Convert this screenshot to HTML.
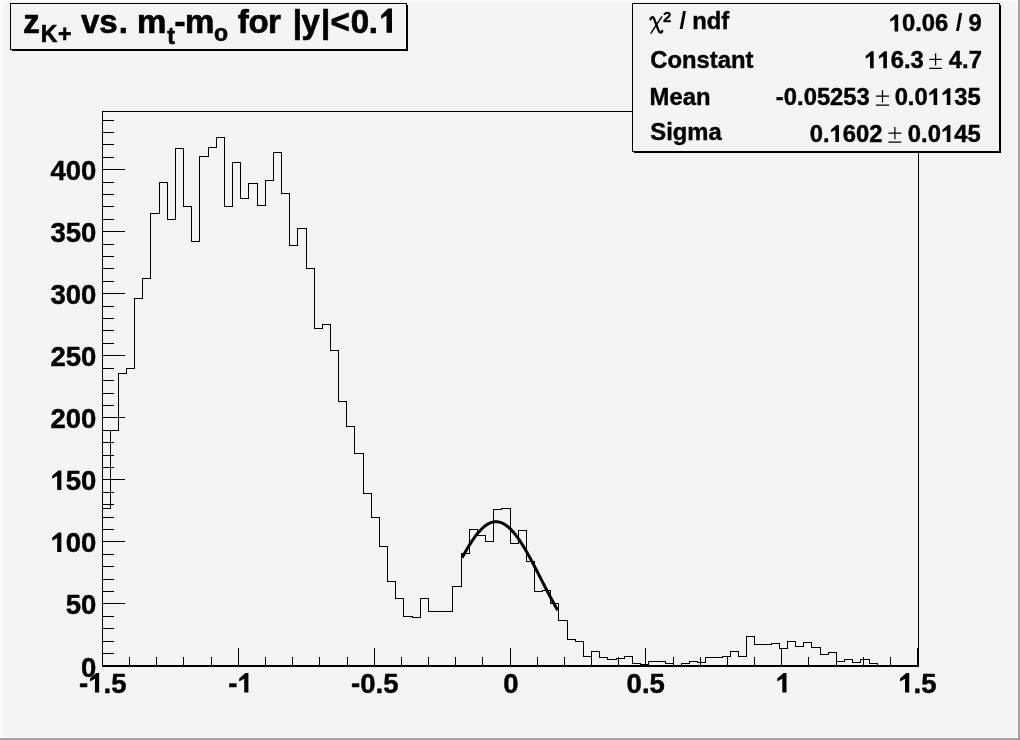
<!DOCTYPE html>
<html><head><meta charset="utf-8"><title>z_K+ vs mt-m0</title>
<style>
html,body{margin:0;padding:0;background:#f4f4f4;}
body{width:1020px;height:740px;overflow:hidden;position:relative;font-family:"Liberation Sans",sans-serif;}
svg{position:absolute;left:0;top:0;display:block;will-change:transform}
text{font-family:"Liberation Sans",sans-serif;font-weight:bold;fill:#000;stroke:#000;stroke-linejoin:round}
</style></head><body>
<svg width="1020" height="740" viewBox="0 0 1020 740">
<rect x="0" y="0" width="1020" height="740" fill="#f4f4f4"/>
<!-- canvas bevel -->
<rect x="0" y="0" width="1020" height="2" fill="#fbfbfb"/>
<rect x="0" y="0" width="3" height="740" fill="#fbfbfb"/>
<rect x="0" y="738" width="1020" height="2" fill="#a2a2a2"/>
<rect x="1018" y="0" width="2" height="740" fill="#a2a2a2"/>
<rect x="1017" y="2" width="1" height="736" fill="#fbfbfb"/>
<rect x="3" y="737" width="1015" height="1" fill="#fbfbfb"/>
<!-- frame -->
<g shape-rendering="crispEdges" fill="none" stroke="#000" stroke-width="1">
<rect x="102.5" y="111.5" width="816" height="555"/>
<path d="M102.5,666 v-18 M129.5,666 v-9 M156.5,666 v-9 M183.5,666 v-9 M211.5,666 v-9 M238.5,666 v-18 M265.5,666 v-9 M292.5,666 v-9 M319.5,666 v-9 M347.5,666 v-9 M374.5,666 v-18 M401.5,666 v-9 M428.5,666 v-9 M455.5,666 v-9 M482.5,666 v-9 M510.5,666 v-18 M537.5,666 v-9 M564.5,666 v-9 M591.5,666 v-9 M618.5,666 v-9 M645.5,666 v-18 M673.5,666 v-9 M700.5,666 v-9 M727.5,666 v-9 M754.5,666 v-9 M781.5,666 v-18 M808.5,666 v-9 M836.5,666 v-9 M863.5,666 v-9 M890.5,666 v-9 M917.5,666 v-18 M102,666.5 h23 M102,653.5 h12 M102,641.5 h12 M102,628.5 h12 M102,616.5 h12 M102,603.5 h23 M102,591.5 h12 M102,579.5 h12 M102,566.5 h12 M102,554.5 h12 M102,541.5 h23 M102,529.5 h12 M102,517.5 h12 M102,504.5 h12 M102,492.5 h12 M102,479.5 h23 M102,467.5 h12 M102,455.5 h12 M102,442.5 h12 M102,430.5 h12 M102,417.5 h23 M102,405.5 h12 M102,393.5 h12 M102,380.5 h12 M102,368.5 h12 M102,355.5 h23 M102,343.5 h12 M102,330.5 h12 M102,318.5 h12 M102,306.5 h12 M102,293.5 h23 M102,281.5 h12 M102,268.5 h12 M102,256.5 h12 M102,244.5 h12 M102,231.5 h23 M102,219.5 h12 M102,206.5 h12 M102,194.5 h12 M102,182.5 h12 M102,169.5 h23 M102,157.5 h12 M102,144.5 h12 M102,132.5 h12 M102,120.5 h12"/>
<path d="M102.5,666.5 L102.5,508.5 L110.5,508.5 L110.5,430.5 L118.5,430.5 L118.5,373.5 L126.5,373.5 L126.5,368.5 L134.5,368.5 L134.5,298.5 L142.5,298.5 L142.5,278.5 L150.5,278.5 L150.5,213.5 L159.5,213.5 L159.5,182.5 L167.5,182.5 L167.5,219.5 L175.5,219.5 L175.5,148.5 L183.5,148.5 L183.5,206.5 L191.5,206.5 L191.5,241.5 L199.5,241.5 L199.5,156.5 L208.5,156.5 L208.5,147.5 L216.5,147.5 L216.5,137.5 L224.5,137.5 L224.5,206.5 L232.5,206.5 L232.5,162.5 L240.5,162.5 L240.5,198.5 L248.5,198.5 L248.5,183.5 L257.5,183.5 L257.5,205.5 L265.5,205.5 L265.5,180.5 L273.5,180.5 L273.5,152.5 L281.5,152.5 L281.5,193.5 L289.5,193.5 L289.5,245.5 L297.5,245.5 L297.5,228.5 L306.5,228.5 L306.5,268.5 L314.5,268.5 L314.5,328.5 L322.5,328.5 L322.5,324.5 L330.5,324.5 L330.5,350.5 L338.5,350.5 L338.5,401.5 L346.5,401.5 L346.5,426.5 L354.5,426.5 L354.5,453.5 L363.5,453.5 L363.5,493.5 L371.5,493.5 L371.5,517.5 L379.5,517.5 L379.5,546.5 L387.5,546.5 L387.5,581.5 L395.5,581.5 L395.5,598.5 L403.5,598.5 L403.5,616.5 L412.5,616.5 L412.5,617.5 L420.5,617.5 L420.5,598.5 L428.5,598.5 L428.5,611.5 L436.5,611.5 L436.5,611.5 L444.5,611.5 L444.5,611.5 L452.5,611.5 L452.5,586.5 L461.5,586.5 L461.5,553.5 L469.5,553.5 L469.5,529.5 L477.5,529.5 L477.5,535.5 L485.5,535.5 L485.5,541.5 L493.5,541.5 L493.5,509.5 L501.5,509.5 L501.5,508.5 L510.5,508.5 L510.5,543.5 L518.5,543.5 L518.5,530.5 L526.5,530.5 L526.5,561.5 L534.5,561.5 L534.5,591.5 L542.5,591.5 L542.5,590.5 L550.5,590.5 L550.5,603.5 L558.5,603.5 L558.5,620.5 L567.5,620.5 L567.5,639.5 L575.5,639.5 L575.5,641.5 L583.5,641.5 L583.5,656.5 L591.5,656.5 L591.5,651.5 L599.5,651.5 L599.5,657.5 L607.5,657.5 L607.5,659.5 L616.5,659.5 L616.5,658.5 L624.5,658.5 L624.5,656.5 L632.5,656.5 L632.5,663.5 L640.5,663.5 L640.5,664.5 L648.5,664.5 L648.5,661.5 L656.5,661.5 L656.5,661.5 L665.5,661.5 L665.5,663.5 L673.5,663.5 L673.5,666.5 L681.5,666.5 L681.5,663.5 L689.5,663.5 L689.5,661.5 L697.5,661.5 L697.5,662.5 L705.5,662.5 L705.5,657.5 L714.5,657.5 L714.5,657.5 L722.5,657.5 L722.5,656.5 L730.5,656.5 L730.5,651.5 L738.5,651.5 L738.5,656.5 L746.5,656.5 L746.5,636.5 L754.5,636.5 L754.5,644.5 L762.5,644.5 L762.5,644.5 L771.5,644.5 L771.5,643.5 L779.5,643.5 L779.5,648.5 L787.5,648.5 L787.5,641.5 L795.5,641.5 L795.5,646.5 L803.5,646.5 L803.5,642.5 L811.5,642.5 L811.5,647.5 L820.5,647.5 L820.5,654.5 L828.5,654.5 L828.5,652.5 L836.5,652.5 L836.5,661.5 L844.5,661.5 L844.5,659.5 L852.5,659.5 L852.5,662.5 L860.5,662.5 L860.5,659.5 L869.5,659.5 L869.5,663.5 L877.5,663.5 L877.5,666.5 L885.5,666.5 L885.5,666.5 L893.5,666.5 L893.5,666.5 L901.5,666.5 L901.5,666.5 L909.5,666.5 L909.5,666.5 L918.5,666.5 L918.5,666.5"/>
<path d="M102,665.5 H919"/>
</g>
<path d="M461.99,557.88 L462.95,556.13 L463.91,554.41 L464.86,552.71 L465.82,551.04 L466.78,549.39 L467.74,547.78 L468.69,546.20 L469.65,544.65 L470.61,543.14 L471.57,541.67 L472.52,540.24 L473.48,538.85 L474.44,537.50 L475.40,536.20 L476.35,534.95 L477.31,533.74 L478.27,532.58 L479.23,531.48 L480.18,530.43 L481.14,529.43 L482.10,528.49 L483.06,527.60 L484.01,526.77 L484.97,526.01 L485.93,525.30 L486.89,524.65 L487.84,524.07 L488.80,523.55 L489.76,523.09 L490.72,522.69 L491.67,522.37 L492.63,522.10 L493.59,521.90 L494.54,521.77 L495.50,521.70 L496.46,521.70 L497.42,521.77 L498.37,521.90 L499.33,522.10 L500.29,522.36 L501.25,522.69 L502.20,523.08 L503.16,523.54 L504.12,524.06 L505.08,524.64 L506.03,525.28 L506.99,525.99 L507.95,526.76 L508.91,527.58 L509.86,528.47 L510.82,529.41 L511.78,530.40 L512.74,531.45 L513.69,532.56 L514.65,533.71 L515.61,534.92 L516.57,536.17 L517.52,537.47 L518.48,538.82 L519.44,540.21 L520.40,541.64 L521.35,543.11 L522.31,544.62 L523.27,546.16 L524.23,547.74 L525.18,549.36 L526.14,551.00 L527.10,552.67 L528.06,554.37 L529.01,556.10 L529.97,557.84 L530.93,559.61 L531.89,561.40 L532.84,563.20 L533.80,565.02 L534.76,566.85 L535.71,568.69 L536.67,570.55 L537.63,572.41 L538.59,574.27 L539.54,576.14 L540.50,578.02 L541.46,579.89 L542.42,581.76 L543.37,583.63 L544.33,585.49 L545.29,587.35 L546.25,589.20 L547.20,591.04 L548.16,592.87 L549.12,594.69 L550.08,596.50 L551.03,598.29 L551.99,600.06 L552.95,601.82 L553.91,603.56 L554.86,605.28 L555.82,606.98 L556.78,608.65 L557.74,610.31" fill="none" stroke="#000" stroke-width="3" stroke-linejoin="round"/>
<g id="ylabels">
<text x="81.03" y="676.90" font-size="27.5px" stroke-width="0.45">0</text>
<text x="65.74" y="613.90" font-size="27.5px" stroke-width="0.45">5</text>
<text x="81.03" y="613.90" font-size="27.5px" stroke-width="0.45">0</text>
<path d="M52.15,537.84 L58.44,532.38 L61.36,532.38 L61.36,551.90 L57.18,551.90 L57.18,538.04 L52.55,540.58 L52.15,540.58 Z" fill="#000"/>
<text x="65.74" y="551.90" font-size="27.5px" stroke-width="0.45">0</text>
<text x="81.03" y="551.90" font-size="27.5px" stroke-width="0.45">0</text>
<path d="M52.15,475.84 L58.44,470.38 L61.36,470.38 L61.36,489.90 L57.18,489.90 L57.18,476.04 L52.55,478.58 L52.15,478.58 Z" fill="#000"/>
<text x="65.74" y="489.90" font-size="27.5px" stroke-width="0.45">5</text>
<text x="81.03" y="489.90" font-size="27.5px" stroke-width="0.45">0</text>
<text x="50.45" y="427.90" font-size="27.5px" stroke-width="0.45">2</text>
<text x="65.74" y="427.90" font-size="27.5px" stroke-width="0.45">0</text>
<text x="81.03" y="427.90" font-size="27.5px" stroke-width="0.45">0</text>
<text x="50.45" y="365.90" font-size="27.5px" stroke-width="0.45">2</text>
<text x="65.74" y="365.90" font-size="27.5px" stroke-width="0.45">5</text>
<text x="81.03" y="365.90" font-size="27.5px" stroke-width="0.45">0</text>
<text x="50.45" y="303.90" font-size="27.5px" stroke-width="0.45">3</text>
<text x="65.74" y="303.90" font-size="27.5px" stroke-width="0.45">0</text>
<text x="81.03" y="303.90" font-size="27.5px" stroke-width="0.45">0</text>
<text x="50.45" y="241.90" font-size="27.5px" stroke-width="0.45">3</text>
<text x="65.74" y="241.90" font-size="27.5px" stroke-width="0.45">5</text>
<text x="81.03" y="241.90" font-size="27.5px" stroke-width="0.45">0</text>
<text x="50.45" y="179.90" font-size="27.5px" stroke-width="0.45">4</text>
<text x="65.74" y="179.90" font-size="27.5px" stroke-width="0.45">0</text>
<text x="81.03" y="179.90" font-size="27.5px" stroke-width="0.45">0</text>
</g>
<g id="xlabels">
<text x="79.05" y="692.50" font-size="27.5px" stroke-width="0.45">-</text>
<path d="M89.92,678.44 L96.20,672.98 L99.13,672.98 L99.13,692.50 L94.95,692.50 L94.95,678.64 L90.32,681.18 L89.92,681.18 Z" fill="#000"/>
<text x="103.50" y="692.50" font-size="27.5px" stroke-width="0.45">.</text>
<text x="111.14" y="692.50" font-size="27.5px" stroke-width="0.45">5</text>
<text x="228.33" y="692.50" font-size="27.5px" stroke-width="0.45">-</text>
<path d="M239.19,678.44 L245.47,672.98 L248.40,672.98 L248.40,692.50 L244.22,692.50 L244.22,678.64 L239.59,681.18 L239.19,681.18 Z" fill="#000"/>
<text x="351.05" y="692.50" font-size="27.5px" stroke-width="0.45">-</text>
<text x="360.21" y="692.50" font-size="27.5px" stroke-width="0.45">0</text>
<text x="375.50" y="692.50" font-size="27.5px" stroke-width="0.45">.</text>
<text x="383.14" y="692.50" font-size="27.5px" stroke-width="0.45">5</text>
<text x="503.27" y="692.50" font-size="27.5px" stroke-width="0.45">0</text>
<text x="626.62" y="692.50" font-size="27.5px" stroke-width="0.45">0</text>
<text x="641.92" y="692.50" font-size="27.5px" stroke-width="0.45">.</text>
<text x="649.56" y="692.50" font-size="27.5px" stroke-width="0.45">5</text>
<path d="M777.29,678.44 L783.58,672.98 L786.51,672.98 L786.51,692.50 L782.33,692.50 L782.33,678.64 L777.69,681.18 L777.29,681.18 Z" fill="#000"/>
<path d="M900.02,678.44 L906.31,672.98 L909.23,672.98 L909.23,692.50 L905.05,692.50 L905.05,678.64 L900.42,681.18 L900.02,681.18 Z" fill="#000"/>
<text x="913.61" y="692.50" font-size="27.5px" stroke-width="0.45">.</text>
<text x="921.25" y="692.50" font-size="27.5px" stroke-width="0.45">5</text>
</g>
<!-- title box -->
<g shape-rendering="crispEdges">
<rect x="12" y="5" width="396" height="46" fill="#000"/>
<rect x="10.5" y="3.5" width="396" height="46" fill="#f4f4f4" stroke="#000" stroke-width="1"/>
</g>
<g id="title">
<path d="M381.10,15.28 L388.15,8.50 L392.00,8.50 L392.00,32.70 L386.50,32.70 L386.50,15.48 L381.50,18.66 L381.10,18.66 Z" fill="#000"/>
<text x="23.18" y="32.50" font-size="33px" stroke-width="0.7">z</text>
<text x="80.97" y="32.50" font-size="33px" stroke-width="0.7">v</text>
<text x="99.34" y="32.50" font-size="33px" stroke-width="0.7">s</text>
<text x="118.86" y="32.50" font-size="33px" stroke-width="0.7">.</text>
<text x="137.12" y="32.50" font-size="33px" stroke-width="0.7">m</text>
<text x="174.51" y="32.50" font-size="33px" stroke-width="0.7">-</text>
<text x="185.12" y="32.50" font-size="33px" stroke-width="0.7">m</text>
<text x="237.84" y="32.50" font-size="33px" stroke-width="0.7">f</text>
<text x="248.51" y="32.50" font-size="33px" stroke-width="0.7">o</text>
<text x="268.02" y="32.50" font-size="33px" stroke-width="0.7">r</text>
<text x="292.79" y="32.50" font-size="33px" stroke-width="0.7">|</text>
<text x="301.44" y="32.50" font-size="33px" stroke-width="0.7">y</text>
<text x="320.89" y="32.50" font-size="33px" stroke-width="0.7">|</text>
<text x="330.41" y="32.50" font-size="33px" stroke-width="0.7">&lt;</text>
<text x="350.69" y="32.50" font-size="33px" stroke-width="0.7">0</text>
<text x="368.86" y="32.50" font-size="33px" stroke-width="0.7">.</text>
<text x="40.76" y="42.30" font-size="23px" stroke-width="0.6">K</text>
<text x="58.03" y="42.30" font-size="23px" stroke-width="0.6">+</text>
<text x="167.32" y="43.50" font-size="23px" stroke-width="0.6">t</text>
<text x="214.00" y="40.50" font-size="23px" stroke-width="0.6">o</text>
</g>
<!-- stats box -->
<g shape-rendering="crispEdges">
<rect x="634" y="5" width="367" height="148" fill="#000"/>
<rect x="632.5" y="3.5" width="367" height="148" fill="#f4f4f4" stroke="#000" stroke-width="1"/>
</g>
<g id="stats">
<path d="M650.5,19.4 C650.9,17.0 653.0,16.4 654.0,18.6 L658.7,30.9 C659.5,33.0 661.5,33.0 662.3,31.0" fill="none" stroke="#000" stroke-width="2.3" stroke-linecap="round"/>
<path d="M661.7,16.9 L651.0,33.1" fill="none" stroke="#000" stroke-width="1.5" stroke-linecap="round"/>
<text x="663.1" y="21.6" font-size="15px" stroke-width="0.3">2</text>
<text x="679.47" y="28.60" font-size="23.8px" stroke-width="0.1">/</text>
<text x="692.13" y="28.60" font-size="23.8px" stroke-width="0.4">n</text>
<text x="706.67" y="28.60" font-size="23.8px" stroke-width="0.4">d</text>
<text x="721.21" y="28.60" font-size="23.8px" stroke-width="0.4">f</text>
<text x="650.22" y="68.00" font-size="23.8px" stroke-width="0.4">C</text>
<text x="667.41" y="68.00" font-size="23.8px" stroke-width="0.4">o</text>
<text x="681.95" y="68.00" font-size="23.8px" stroke-width="0.4">n</text>
<text x="696.49" y="68.00" font-size="23.8px" stroke-width="0.4">s</text>
<text x="709.72" y="68.00" font-size="23.8px" stroke-width="0.4">t</text>
<text x="717.65" y="68.00" font-size="23.8px" stroke-width="0.4">a</text>
<text x="730.89" y="68.00" font-size="23.8px" stroke-width="0.4">n</text>
<text x="745.42" y="68.00" font-size="23.8px" stroke-width="0.4">t</text>
<text x="649.61" y="104.70" font-size="23.8px" stroke-width="0.4">M</text>
<text x="669.43" y="104.70" font-size="23.8px" stroke-width="0.4">e</text>
<text x="682.67" y="104.70" font-size="23.8px" stroke-width="0.4">a</text>
<text x="695.91" y="104.70" font-size="23.8px" stroke-width="0.4">n</text>
<text x="650.31" y="140.00" font-size="23.8px" stroke-width="0.4">S</text>
<text x="666.19" y="140.00" font-size="23.8px" stroke-width="0.4">i</text>
<text x="672.80" y="140.00" font-size="23.8px" stroke-width="0.4">g</text>
<text x="687.34" y="140.00" font-size="23.8px" stroke-width="0.4">m</text>
<text x="708.50" y="140.00" font-size="23.8px" stroke-width="0.4">a</text>
<path d="M890.20,19.23 L895.64,14.50 L898.17,14.50 L898.17,31.40 L894.56,31.40 L894.56,19.43 L890.60,21.60 L890.20,21.60 Z" fill="#000"/>
<text x="901.96" y="31.40" font-size="23.8px" stroke-width="0.4">0</text>
<text x="915.20" y="31.40" font-size="23.8px" stroke-width="0.4">.</text>
<text x="921.81" y="31.40" font-size="23.8px" stroke-width="0.4">0</text>
<text x="935.05" y="31.40" font-size="23.8px" stroke-width="0.4">6</text>
<text x="955.87" y="31.40" font-size="23.8px" stroke-width="0.1">/</text>
<text x="968.55" y="31.40" font-size="23.8px" stroke-width="0.4">9</text>
<path d="M865.70,56.03 L871.14,51.30 L873.67,51.30 L873.67,68.20 L870.06,68.20 L870.06,56.23 L866.10,58.40 L865.70,58.40 Z" fill="#000"/>
<path d="M878.94,56.03 L884.38,51.30 L886.91,51.30 L886.91,68.20 L883.29,68.20 L883.29,56.23 L879.34,58.40 L878.94,58.40 Z" fill="#000"/>
<text x="890.70" y="68.20" font-size="23.8px" stroke-width="0.4">6</text>
<text x="903.93" y="68.20" font-size="23.8px" stroke-width="0.4">.</text>
<text x="910.55" y="68.20" font-size="23.8px" stroke-width="0.4">3</text>
<path d="M929.40,59.30 H941.80 M935.60,53.20 V65.60 M929.40,68.30 H941.80" fill="none" stroke="#000" stroke-width="1.25"/>
<text x="948.86" y="68.20" font-size="23.8px" stroke-width="0.4">4</text>
<text x="962.10" y="68.20" font-size="23.8px" stroke-width="0.4">.</text>
<text x="968.71" y="68.20" font-size="23.8px" stroke-width="0.4">7</text>
<text x="775.87" y="105.10" font-size="23.8px" stroke-width="0.4">-</text>
<text x="783.80" y="105.10" font-size="23.8px" stroke-width="0.4">0</text>
<text x="797.03" y="105.10" font-size="23.8px" stroke-width="0.4">.</text>
<text x="803.64" y="105.10" font-size="23.8px" stroke-width="0.4">0</text>
<text x="816.88" y="105.10" font-size="23.8px" stroke-width="0.4">5</text>
<text x="830.12" y="105.10" font-size="23.8px" stroke-width="0.4">2</text>
<text x="843.35" y="105.10" font-size="23.8px" stroke-width="0.4">5</text>
<text x="856.59" y="105.10" font-size="23.8px" stroke-width="0.4">3</text>
<path d="M875.90,96.20 H889.10 M882.50,90.10 V102.50 M875.90,105.20 H889.10" fill="none" stroke="#000" stroke-width="1.25"/>
<text x="894.63" y="105.10" font-size="23.8px" stroke-width="0.4">0</text>
<text x="907.87" y="105.10" font-size="23.8px" stroke-width="0.4">.</text>
<text x="914.48" y="105.10" font-size="23.8px" stroke-width="0.4">0</text>
<path d="M929.19,92.93 L934.63,88.20 L937.17,88.20 L937.17,105.10 L933.55,105.10 L933.55,93.13 L929.59,95.30 L929.19,95.30 Z" fill="#000"/>
<path d="M942.43,92.93 L947.87,88.20 L950.40,88.20 L950.40,105.10 L946.78,105.10 L946.78,93.13 L942.83,95.30 L942.43,95.30 Z" fill="#000"/>
<text x="954.19" y="105.10" font-size="23.8px" stroke-width="0.4">3</text>
<text x="967.43" y="105.10" font-size="23.8px" stroke-width="0.4">5</text>
<text x="809.66" y="141.90" font-size="23.8px" stroke-width="0.4">0</text>
<text x="822.90" y="141.90" font-size="23.8px" stroke-width="0.4">.</text>
<path d="M830.98,129.73 L836.42,125.00 L838.96,125.00 L838.96,141.90 L835.34,141.90 L835.34,129.93 L831.38,132.10 L830.98,132.10 Z" fill="#000"/>
<text x="842.74" y="141.90" font-size="23.8px" stroke-width="0.4">6</text>
<text x="855.98" y="141.90" font-size="23.8px" stroke-width="0.4">0</text>
<text x="869.22" y="141.90" font-size="23.8px" stroke-width="0.4">2</text>
<path d="M888.40,133.00 H901.40 M894.90,126.90 V139.30 M888.40,142.00 H901.40" fill="none" stroke="#000" stroke-width="1.25"/>
<text x="907.87" y="141.90" font-size="23.8px" stroke-width="0.4">0</text>
<text x="921.10" y="141.90" font-size="23.8px" stroke-width="0.4">.</text>
<text x="927.72" y="141.90" font-size="23.8px" stroke-width="0.4">0</text>
<path d="M942.43,129.73 L947.87,125.00 L950.40,125.00 L950.40,141.90 L946.78,141.90 L946.78,129.93 L942.83,132.10 L942.43,132.10 Z" fill="#000"/>
<text x="954.19" y="141.90" font-size="23.8px" stroke-width="0.4">4</text>
<text x="967.43" y="141.90" font-size="23.8px" stroke-width="0.4">5</text>
</g>
</svg>
</body></html>
